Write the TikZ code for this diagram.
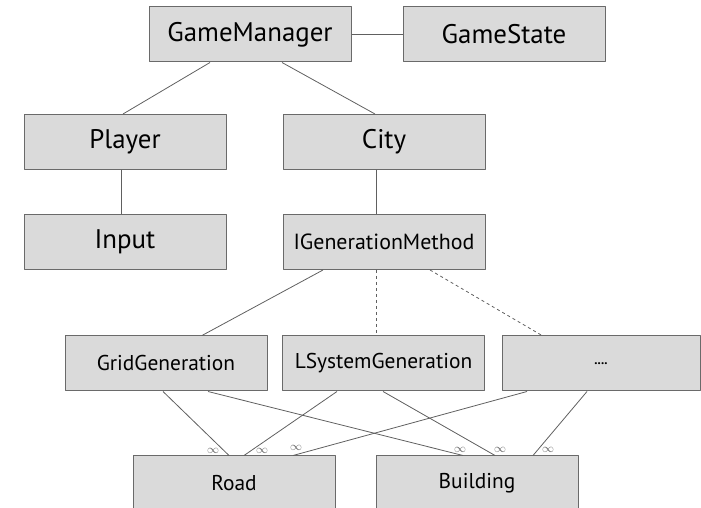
\documentclass[tikz,border=0pt]{standalone}
\usepackage{fontspec}
\setmainfont{PT Sans}
\definecolor{boxfill}{HTML}{DADADA}
\definecolor{boxline}{HTML}{6A6A6A}
\definecolor{linkgray}{HTML}{606060}
\begin{document}
\begin{tikzpicture}[>=latex,line join=bevel,
  cls/.style={draw=boxline,fill=boxfill,line width=1bp,inner sep=0pt,
    minimum width=202bp,minimum height=55bp},
  bigtext/.style={font=\fontsize{27}{32}\selectfont},
  midtext/.style={font=\fontsize{21.5}{26}\selectfont},
  lowtext/.style={font=\fontsize{21.5}{26}\selectfont},
  link/.style={draw=linkgray,line width=0.8bp},
  mult/.style={inner sep=0pt,text=linkgray,font=\fontsize{12}{13}\selectfont},
]
\useasboundingbox (0bp,0bp) rectangle (701bp,508bp);
\clip (0bp,0bp) rectangle (701bp,508bp);
%%
\node (GameManager) at (250bp,473.5bp) [cls,bigtext] {GameManager};
  \node (GameState) at (504bp,473.5bp) [cls,bigtext] {GameState};
  \node (Player) at (125bp,366bp) [cls,bigtext] {Player};
  \node (City) at (384bp,366bp) [cls,bigtext] {City};
  \node (Input) at (125bp,266bp) [cls,bigtext] {Input};
  \node (IGenerationMethod) at (384bp,266bp) [cls,midtext,font=\fontsize{22}{26}\selectfont] {IGenerationMethod};
  \node (GridGeneration) at (166bp,144.5bp) [cls,midtext] {GridGeneration};
  \node (LSystemGeneration) at (383.5bp,144.5bp) [cls,midtext] {LSystemGeneration};
  \node (Other) at (601bp,144.5bp) [cls,font=\bfseries\fontsize{13}{16}\selectfont,minimum width=198bp] {....};
  \node (Road) at (234bp,24.5bp) [cls,lowtext] {Road};
  \node (Building) at (477bp,24.5bp) [cls,lowtext] {Building};
%
  \draw [link] (GameManager) -- (GameState);
  \draw [link] ([xshift=-40bp]GameManager.south) -- ([xshift=-2bp]Player.north);
  \draw [link] ([xshift=32bp]GameManager.south) -- ([xshift=-9bp]City.north);
  \draw [link] ([xshift=-4bp]Player.south) -- ([xshift=-4bp]Input.north);
  \draw [link] ([xshift=-8bp]City.south) -- ([xshift=-8bp]IGenerationMethod.north);
  \draw [link] ([xshift=-61bp]IGenerationMethod.south) -- ([xshift=36bp]GridGeneration.north);
  \draw [link,dashed] ([xshift=-8bp]IGenerationMethod.south) -- ([xshift=-7.5bp]LSystemGeneration.north);
  \draw [link,dashed] ([xshift=46bp]IGenerationMethod.south) -- ([xshift=-59bp]Other.north);
%
  \draw [link] ([xshift=-3bp]GridGeneration.south) -- ([xshift=-5bp]Road.north);
  \draw [link] ([xshift=-46.5bp]LSystemGeneration.south) -- ([xshift=10bp]Road.north);
  \draw [link] ([xshift=-74bp]Other.south) -- ([xshift=59bp]Road.north);
  \draw [link] ([xshift=42bp]GridGeneration.south) -- ([xshift=-14bp]Building.north);
  \draw [link] ([xshift=-0.5bp]LSystemGeneration.south) -- ([xshift=18bp]Building.north);
  \draw [link] ([xshift=-14bp]Other.south) -- ([xshift=56bp]Building.north);
%
  \node (inf_1) at (213bp,57bp) [mult] {$\infty$};
  \node (inf_2) at (262bp,57bp) [mult] {$\infty$};
  \node (inf_3) at (296bp,60bp) [mult] {$\infty$};
  \node (inf_4) at (460bp,58bp) [mult] {$\infty$};
  \node (inf_5) at (500bp,58bp) [mult] {$\infty$};
  \node (inf_6) at (548bp,58bp) [mult] {$\infty$};
%
\end{tikzpicture}
\end{document}
